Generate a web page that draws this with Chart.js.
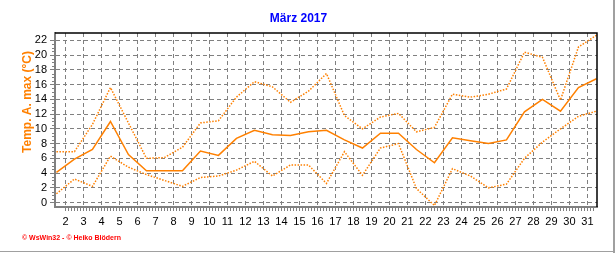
<!DOCTYPE html>
<html>
<head>
<meta charset="utf-8">
<script src="https://cdn.jsdelivr.net/npm/chart.js@4.4.1/dist/chart.umd.min.js"></script>
<style>
  html, body { margin: 0; padding: 0; background: #fff; }
  #wrap { width: 616px; height: 253px; position: relative; }
</style>
</head>
<body>
<div id="wrap"><canvas id="chart" width="616" height="253"></canvas></div>
<script>
// Tage im März 2017
const days = [1, 2, 3, 4, 5, 6, 7, 8, 9, 10, 11, 12, 13, 14, 15, 16, 17, 18, 19, 20, 21, 22, 23, 24, 25, 26, 27, 28, 29, 30, 31];

// Temperaturwerte (°C)
const upperTemps = [6.9, 6.9, 10.6, 15.6, 10.8, 6.0, 6.1, 7.5, 10.8, 11.1, 14.3, 16.4, 15.7, 13.6, 15.1, 17.5, 11.8, 10.0, 11.6, 12.1, 9.6, 10.2, 14.7, 14.3, 14.7, 15.4, 20.4, 19.7, 13.9, 21.1, 22.7];
const middleTemps = [4.1, 5.9, 7.2, 11.0, 6.5, 4.3, 4.3, 4.3, 7.0, 6.4, 8.7, 9.8, 9.2, 9.1, 9.6, 9.8, 8.5, 7.4, 9.4, 9.4, 7.2, 5.4, 8.8, 8.4, 8.0, 8.5, 12.3, 14.0, 12.4, 15.6, 16.8];
const lowerTemps = [1.2, 3.2, 2.2, 6.3, 4.8, 3.8, 3.0, 2.2, 3.4, 3.6, 4.4, 5.6, 3.6, 5.1, 5.1, 2.6, 6.9, 3.7, 7.4, 8.0, 1.9, -0.4, 4.6, 3.6, 2.0, 2.5, 6.0, 8.2, 10.0, 11.7, 12.4];

// Achsenbeschriftungen
const xTickLabels = [2, 3, 4, 5, 6, 7, 8, 9, 10, 11, 12, 13, 14, 15, 16, 17, 18, 19, 20, 21, 22, 23, 24, 25, 26, 27, 28, 29, 30, 31];
const yTickLabels = [0, 2, 4, 6, 8, 10, 12, 14, 16, 18, 20, 22];

const ORANGE = "#FF8000";
const GRID = "#808080";
const FONT = "'Liberation Sans', Arial, sans-serif";

// Tageswerte liegen jeweils in der Mitte des Tages
function toPoints(values) {
    return days.map((d, i) => ({ x: d + 0.5, y: values[i] }));
}

// Rahmen, Nebenstriche, Achsentitel und Copyright
const decorPlugin = {
    id: "decor",
    afterDraw(chart) {
        const ctx = chart.ctx;
        const area = chart.chartArea;
        const xs = chart.scales.x;
        const ys = chart.scales.y;
        ctx.save();

        // kleine Striche unter der x-Achse (alle 4 Stunden)
        ctx.strokeStyle = GRID;
        ctx.lineWidth = 1;
        ctx.beginPath();
        for (let v = 2; v <= 31.5; v += 1 / 6) {
            const px = Math.round(xs.getPixelForValue(v)) + 0.5;
            if (px < area.left || px > area.right) continue;
            ctx.moveTo(px, area.bottom + 1);
            ctx.lineTo(px, area.bottom + 4);
        }
        for (let v = 1; v > xs.min; v -= 1 / 6) {
            const px = Math.round(xs.getPixelForValue(v)) + 0.5;
            if (px < area.left) continue;
            ctx.moveTo(px, area.bottom + 1);
            ctx.lineTo(px, area.bottom + 4);
        }
        // Nebenstriche an der y-Achse
        for (let v = 0; v <= 22; v += 0.5) {
            if (v % 2 === 0) continue;
            const py = Math.round(ys.getPixelForValue(v)) + 0.5;
            ctx.moveTo(area.left - 3, py);
            ctx.lineTo(area.left - 1, py);
        }
        ctx.stroke();

        // schwarzer Rahmen oben und rechts
        ctx.strokeStyle = "#000";
        ctx.lineWidth = 1.5;
        ctx.beginPath();
        ctx.moveTo(area.left, area.top);
        ctx.lineTo(area.right, area.top);
        ctx.lineTo(area.right, area.bottom);
        ctx.stroke();

        // äußerer grauer Rand
        ctx.fillStyle = "#a0a0a0";
        ctx.fillRect(613, 0, 2, 253);
        ctx.fillRect(0, 251, 615, 1);

        // y-Achsentitel
        ctx.fillStyle = ORANGE;
        ctx.font = "bold 12px " + FONT;
        ctx.textAlign = "center";
        ctx.textBaseline = "middle";
        ctx.translate(28, 102);
        ctx.rotate(-Math.PI / 2);
        ctx.fillText("Temp. A. max (°C)", 0, 0);
        ctx.restore();

        // Copyright
        ctx.save();
        ctx.fillStyle = "#FF0000";
        ctx.font = "bold 7px " + FONT;
        ctx.textAlign = "left";
        ctx.textBaseline = "middle";
        ctx.fillText("© WsWin32 - © Heiko Blödern", 22, 238);
        ctx.restore();
    }
};

const ctx = document.getElementById("chart").getContext("2d");

new Chart(ctx, {
    type: "line",
    data: {
        datasets: [
            {
                label: "max",
                data: toPoints(upperTemps),
                borderColor: ORANGE,
                borderWidth: 1.5,
                borderDash: [1.5, 1.5],
                pointRadius: 0,
                fill: false,
                tension: 0
            },
            {
                label: "mittel",
                data: toPoints(middleTemps),
                borderColor: ORANGE,
                borderWidth: 1.5,
                pointRadius: 0,
                fill: false,
                tension: 0
            },
            {
                label: "min",
                data: toPoints(lowerTemps),
                borderColor: ORANGE,
                borderWidth: 1.5,
                borderDash: [1.5, 1.5],
                pointRadius: 0,
                fill: false,
                tension: 0
            }
        ]
    },
    options: {
        responsive: false,
        animation: false,
        events: [],
        layout: { padding: { left: 0, right: 19, top: 0, bottom: 28 } },
        plugins: {
            legend: { display: false },
            tooltip: { enabled: false },
            title: {
                display: true,
                text: "März 2017",
                color: "#0000FF",
                font: { family: FONT, size: 12, weight: "bold" },
                padding: { top: 11.8, bottom: 6.8 }
            }
        },
        scales: {
            x: {
                type: "linear",
                min: 1.42,
                max: 31.53,
                afterBuildTicks: s => { s.ticks = xTickLabels.map(v => ({ value: v })); },
                afterFit: s => { s.height = 18; },
                grid: { color: GRID, lineWidth: 1, drawTicks: false },
                border: { color: GRID, width: 2, dash: [4, 3] },
                ticks: {
                    color: "#000",
                    padding: 8,
                    maxRotation: 0,
                    autoSkip: false,
                    font: { family: FONT, size: 11 },
                    callback: v => String(v)
                }
            },
            y: {
                min: -0.6,
                max: 23,
                afterBuildTicks: s => { s.ticks = yTickLabels.map(v => ({ value: v })); },
                afterFit: s => { s.width = 55; },
                grid: { color: GRID, lineWidth: 1, drawTicks: true, tickLength: 5, tickColor: GRID },
                border: { color: GRID, width: 2, dash: [4, 3] },
                ticks: {
                    color: "#000",
                    padding: 3,
                    autoSkip: false,
                    font: { family: FONT, size: 11 },
                    callback: v => String(v)
                }
            }
        }
    },
    plugins: [decorPlugin]
});
</script>
</body>
</html>
